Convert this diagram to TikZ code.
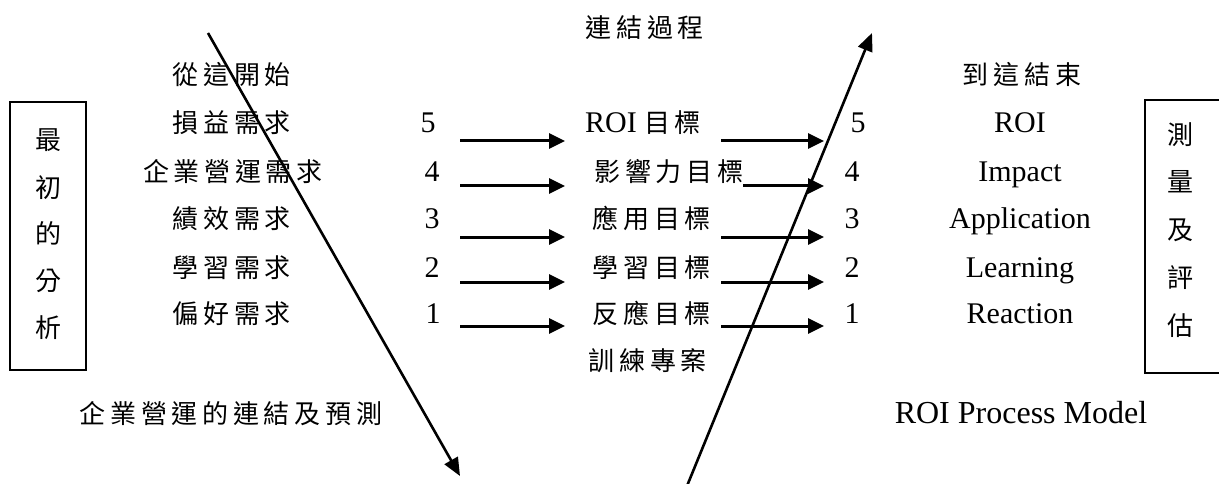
\documentclass[tikz,border=0pt]{standalone}
\usepackage{fontspec}
\setmainfont{Liberation Serif}
\newfontfamily\cjk[LetterSpace=18]{Noto Sans CJK TC}
\usetikzlibrary{arrows.meta}
\begin{document}
\begin{tikzpicture}[x=1pt,y=-1pt,
  lat/.style={font=\fontsize{30}{30}\selectfont, inner sep=0pt, anchor=base},
  zh/.style={font=\fontsize{26}{26}\selectfont\cjk, inner sep=0pt, anchor=base},
  boxshape/.style={draw, line width=1.6pt},
  arr/.style={line width=3pt, -{Triangle[length=16pt,width=15pt]}},
  diag/.style={line width=2.6pt, -{Triangle[length=18pt,width=15pt]}}]
\useasboundingbox (0,0) rectangle (1219,484);
% boxes
\draw[boxshape] (10,102) rectangle (86,370);
\coordinate (rb1) at (1240,100);
\coordinate (rb2) at (1240,373);
\draw[boxshape] (rb1) -- (1145,100) -- (1145,373) -- (rb2);
% left box text
\node[zh] (l1) at (48,150) {最};
\node[zh] (l2) at (48,197) {初};
\node[zh] (l3) at (48,243) {的};
\node[zh] (l4) at (48,290) {分};
\node[zh] (l5) at (48,337) {析};
% right box text
\node[zh] (r1) at (1180,145) {測};
\node[zh] (r2) at (1180,192) {量};
\node[zh] (r3) at (1180,240) {及};
\node[zh] (r4) at (1180,287) {評};
\node[zh] (r5) at (1180,335) {估};
% headers
\node[zh] (hmid) at (645,38) {連結過程};
\node[zh] (hl) at (232,85) {從這開始};
\node[zh] (hr) at (1022,85) {到這結束};
% left column
\node[zh] (n5) at (232,133) {損益需求};
\node[zh] (n4) at (233,182) {企業營運需求};
\node[zh] (n3) at (232,228) {績效需求};
\node[zh] (n2) at (232,277) {學習需求};
\node[zh] (n1) at (232,323) {偏好需求};
% left numbers
\node[lat] (a5) at (428,133) {5};
\node[lat] (a4) at (432,182) {4};
\node[lat] (a3) at (432,228) {3};
\node[lat] (a2) at (432,277) {2};
\node[lat] (a1) at (433,323) {1};
% middle
\node[anchor=base, inner sep=0pt] (m5) at (643,133) {\fontsize{30}{30}\selectfont ROI {\fontsize{26}{26}\selectfont\cjk 目標}};
\node[zh] (m4) at (669,182) {影響力目標};
\node[zh] (m3) at (652,228) {應用目標};
\node[zh] (m2) at (652,277) {學習目標};
\node[zh] (m1) at (652,323) {反應目標};
\node[zh] (mb) at (648,370) {訓練專案};
% right numbers
\node[lat] (b5) at (858,133) {5};
\node[lat] (b4) at (852,182) {4};
\node[lat] (b3) at (852,228) {3};
\node[lat] (b2) at (852,277) {2};
\node[lat] (b1) at (852,323) {1};
% right labels
\node[lat] (c5) at (1020,133) {ROI};
\node[lat] (c4) at (1020,182) {Impact};
\node[lat] (c3) at (1020,228) {Application};
\node[lat] (c2) at (1020,277) {Learning};
\node[lat] (c1) at (1020,323) {Reaction};
% bottom
\node[zh] (bl) at (231,423) {企業營運的連結及預測};
\node[lat, font=\fontsize{32}{32}\selectfont] (br) at (1021,423) {ROI Process Model};
% left arrows
\foreach \i/\y in {5/141,4/186,3/237,2/282,1/326}{
  \coordinate (p\i) at (460,\y);
  \coordinate (q\i) at (565,\y);
  \draw[arr] (p\i) -- (q\i);
}
% right arrows
\foreach \i/\y/\s in {5/141/721,4/186/743,3/237/721,2/282/721,1/326/721}{
  \coordinate (s\i) at (\s,\y);
  \coordinate (t\i) at (824,\y);
  \draw[arr] (s\i) -- (t\i);
}
% diagonals
\coordinate (ls) at (208,33);
\coordinate (le) at (460,476);
\draw[diag] (ls) -- (le);
\coordinate (rs) at (687,486);
\coordinate (re) at (872,33);
\draw[diag] (rs) -- (re);
\end{tikzpicture}
\end{document}
